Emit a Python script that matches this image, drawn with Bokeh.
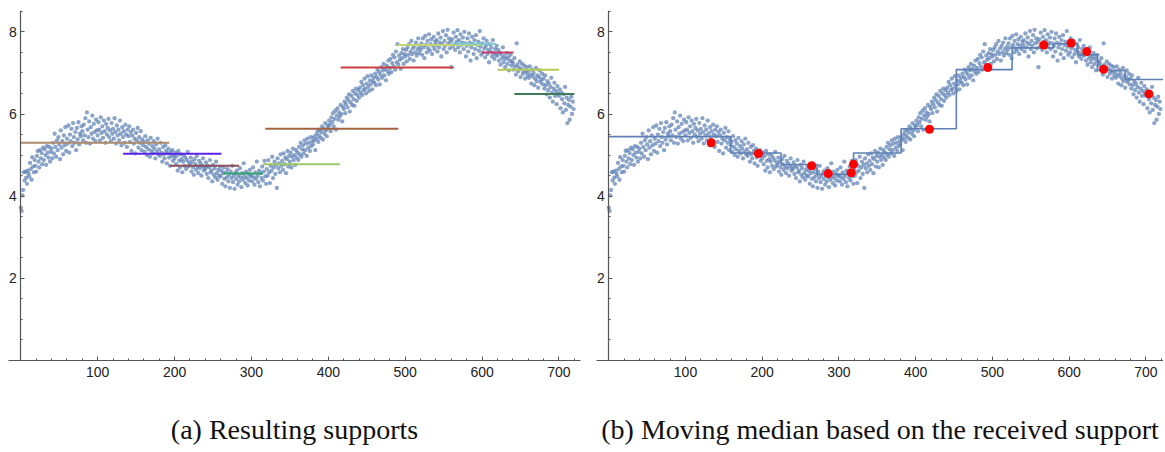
from bokeh.plotting import figure
from bokeh.models import ColumnDataSource, FixedTicker, Range1d
from bokeh.layouts import row
from bokeh.embed import file_html
from bokeh.resources import INLINE

# ---------------- data ----------------
y_values = [
    3.72, 3.64, 4.02, 4.15, 4.58, 4.38, 4.60, 4.45, 4.30, 4.62, 4.55, 4.48, 4.81, 4.66, 4.40, 4.95, 4.72, 4.58, 4.88, 4.74,
    4.60, 4.98, 5.10, 4.84, 4.70, 5.12, 4.92, 5.05, 4.78, 5.18, 4.88, 5.14, 5.00, 4.76, 5.22, 5.06, 4.94, 5.20, 4.84, 5.08,
    5.16, 4.92, 5.30, 5.04, 5.52, 5.20, 4.96, 5.36, 5.12, 5.44, 5.26, 4.90, 5.60, 5.18, 5.34, 5.02, 5.48, 5.24, 5.68, 5.10,
    5.40, 5.28, 5.72, 5.06, 5.50, 5.34, 5.64, 5.22, 5.78, 5.44, 5.30, 5.56, 5.12, 5.66, 5.38, 5.80, 5.26, 5.52, 5.46, 5.70,
    5.58, 5.36, 5.74, 5.48, 5.90, 5.30, 6.04, 5.62, 5.44, 5.82, 5.28, 5.68, 5.52, 5.96, 5.40, 5.76, 5.56, 5.34, 5.86, 5.60,
    5.48, 5.80, 5.62, 5.36, 5.92, 5.54, 5.70, 5.42, 5.84, 5.58, 5.30, 5.76, 5.50, 5.66, 5.88, 5.44, 5.60, 5.34, 5.78, 5.52,
    5.64, 5.40, 5.90, 5.56, 5.28, 5.72, 5.48, 5.62, 5.36, 5.84, 5.52, 5.24, 5.68, 5.44, 5.58, 5.30, 5.74, 5.50, 5.20, 5.62,
    5.46, 5.70, 5.32, 5.56, 5.10, 5.48, 5.62, 5.28, 5.40, 5.04, 5.54, 5.36, 5.66, 5.18, 5.44, 5.30, 5.58, 5.12, 5.38, 5.24,
    5.32, 5.08, 5.46, 5.20, 5.00, 5.36, 5.14, 5.28, 4.96, 5.42, 5.10, 5.22, 5.04, 5.34, 5.16, 4.92, 5.26, 5.08, 5.40, 5.02,
    5.14, 4.98, 5.30, 5.06, 4.84, 5.20, 5.02, 4.92, 5.24, 5.10, 4.80, 5.04, 5.16, 4.94, 4.74, 5.08, 4.98, 5.12, 4.86, 5.00,
    4.92, 5.06, 4.78, 4.98, 4.62, 5.10, 4.86, 4.70, 5.02, 4.90, 4.58, 4.84, 5.00, 4.74, 4.94, 4.66, 4.88, 5.08, 4.72, 4.82,
    4.76, 4.94, 4.60, 4.84, 4.70, 4.52, 4.90, 4.78, 4.64, 4.98, 4.72, 4.56, 4.86, 4.68, 4.80, 4.50, 4.74, 4.92, 4.62, 4.70,
    4.66, 4.82, 4.54, 4.74, 4.44, 4.70, 4.88, 4.58, 4.62, 4.36, 4.76, 4.52, 4.68, 4.46, 4.84, 4.56, 4.40, 4.64, 4.50, 4.72,
    4.48, 4.62, 4.30, 4.56, 4.70, 4.42, 4.24, 4.58, 4.46, 4.66, 4.36, 4.52, 4.20, 4.60, 4.44, 4.74, 4.34, 4.50, 4.18, 4.56,
    4.42, 4.62, 4.28, 4.50, 4.36, 4.68, 4.46, 4.22, 4.56, 4.40, 4.80, 4.48, 4.32, 4.60, 4.44, 4.26, 4.54, 4.38, 4.64, 4.48,
    4.52, 4.36, 4.70, 4.46, 4.28, 4.58, 4.42, 4.84, 4.50, 4.34, 4.62, 4.24, 4.56, 4.44, 4.72, 4.38, 4.60, 4.86, 4.48, 4.30,
    4.66, 4.50, 4.88, 4.58, 4.32, 4.74, 4.62, 4.96, 4.44, 4.70, 4.84, 4.54, 4.76, 4.20, 4.92, 4.68, 4.80, 4.58, 5.02, 4.74,
    4.86, 4.64, 5.04, 4.78, 4.94, 4.56, 4.90, 5.10, 4.72, 4.98, 4.84, 5.06, 4.70, 4.96, 5.16, 4.88, 5.00, 4.76, 5.12, 4.94,
    5.06, 4.88, 5.20, 5.02, 5.30, 4.96, 5.14, 5.24, 5.04, 5.36, 5.12, 5.28, 4.98, 5.40, 5.18, 5.30, 5.10, 5.44, 5.22, 5.34,
    5.26, 5.44, 5.36, 5.12, 5.50, 5.40, 5.58, 5.32, 5.48, 5.62, 5.42, 5.56, 5.70, 5.38, 5.64, 5.52, 5.78, 5.60, 5.46, 5.72,
    5.66, 5.84, 5.74, 5.58, 5.92, 5.80, 6.02, 5.70, 5.88, 6.08, 5.62, 5.96, 6.14, 5.86, 6.04, 5.94, 6.22, 6.00, 5.82, 6.18,
    6.12, 6.30, 6.02, 6.24, 6.40, 6.16, 6.34, 6.48, 6.06, 6.28, 6.44, 6.22, 6.56, 6.36, 6.20, 6.50, 6.62, 6.32, 6.46, 6.58,
    6.40, 6.64, 6.52, 6.78, 6.46, 6.70, 6.58, 6.86, 6.62, 6.50, 6.74, 6.92, 6.66, 6.56, 6.82, 6.72, 6.94, 6.60, 6.80, 6.88,
    6.76, 6.98, 6.70, 6.90, 7.08, 6.84, 7.02, 6.72, 6.96, 7.14, 6.88, 7.06, 7.22, 6.94, 7.10, 6.82, 7.18, 7.04, 7.30, 6.98,
    7.12, 7.34, 7.02, 7.24, 7.44, 7.16, 7.38, 7.08, 7.52, 7.26, 7.70, 7.20, 7.42, 7.32, 7.10, 7.48, 7.36, 7.58, 7.22, 7.46,
    7.40, 7.56, 7.28, 7.62, 7.44, 7.70, 7.34, 7.52, 7.78, 7.46, 7.60, 7.30, 7.66, 7.50, 7.74, 7.42, 7.58, 7.84, 7.48, 7.64,
    7.56, 7.72, 7.44, 7.84, 7.62, 7.36, 7.90, 7.68, 7.50, 7.78, 7.60, 7.94, 7.54, 7.70, 7.82, 7.46, 7.66, 7.88, 7.58, 7.76,
    7.68, 7.80, 7.52, 7.96, 7.62, 7.74, 7.86, 7.40, 7.70, 8.02, 7.58, 7.78, 7.66, 7.92, 7.50, 8.05, 7.72, 7.84, 7.60, 7.76,
    7.14, 7.82, 7.64, 7.98, 7.70, 7.56, 7.88, 7.76, 8.04, 7.62, 7.80, 7.50, 7.94, 7.68, 7.74, 7.86, 7.58, 8.00, 7.72, 7.40,
    7.66, 7.84, 7.52, 7.96, 7.74, 7.30, 7.62, 7.88, 7.70, 7.46, 7.80, 7.58, 7.92, 7.36, 7.68, 7.76, 7.54, 8.02, 7.64, 7.44,
    7.72, 7.50, 7.84, 7.60, 7.38, 7.66, 7.78, 7.46, 7.56, 7.26, 7.70, 7.52, 7.62, 7.40, 7.80, 7.48, 7.34, 7.58, 7.44, 7.66,
    7.42, 7.56, 7.30, 7.50, 7.20, 7.46, 7.36, 7.62, 7.26, 7.40, 7.14, 7.34, 7.48, 7.22, 7.38, 7.06, 7.30, 7.44, 7.18, 7.28,
    7.24, 7.08, 7.36, 7.16, 6.96, 7.72, 7.20, 7.04, 7.12, 7.28, 6.90, 7.10, 7.22, 6.98, 7.06, 7.18, 6.86, 7.02, 7.14, 6.94,
    7.04, 6.88, 7.16, 6.96, 6.74, 7.08, 6.92, 7.00, 6.70, 6.86, 7.12, 6.80, 6.94, 6.64, 6.90, 7.06, 6.78, 6.84, 6.98, 6.72,
    6.86, 6.62, 6.94, 6.70, 6.48, 6.80, 6.58, 6.74, 6.40, 6.66, 6.88, 6.52, 6.30, 6.62, 6.76, 6.44, 6.56, 6.24, 6.68, 6.50,
    6.44, 6.60, 6.14, 6.52, 6.36, 6.04, 6.48, 6.26, 6.66, 6.10, 6.40, 5.78, 6.22, 6.34, 5.86, 6.18, 6.42, 6.00, 6.30, 6.12,
]
x_values = list(range(len(y_values)))

# resulting supports (panel a)
support_start = [0, 133, 194, 263, 315, 318, 416, 490, 562, 600, 620, 642]
support_end = [193, 261, 284, 315, 415, 491, 563, 599, 618, 641, 700, 720]
support_median = [5.30, 5.03, 4.74, 4.55, 4.78, 5.64, 7.13, 7.68, 7.71, 7.50, 7.08, 6.49]
support_colors = ["#ad8a6c", "#5b22e6", "#8c4e5c", "#2fa46e", "#9cc766", "#a2643e",
                  "#c9403f", "#c2d46e", "#7ccbd2", "#cc3e66", "#b6ca4e", "#3f7b5b"]

# moving median (panel b)
median_x = [0, 159, 224.5, 271.5, 319, 381, 453, 525.7, 580, 611, 637, 673, 723]
median_y = [5.45, 5.05, 4.77, 4.53, 5.05, 5.64, 7.08, 7.61, 7.71, 7.44, 7.06, 6.84, 6.84]
marker_x = [133.6, 195, 264.4, 286, 316, 319, 418, 494, 567, 602.5, 623, 645, 704]
marker_y = [5.30, 5.04, 4.74, 4.55, 4.57, 4.78, 5.63, 7.13, 7.68, 7.73, 7.52, 7.09, 6.49]

x_major = [100, 200, 300, 400, 500, 600, 700]
x_minor = [20, 40, 60, 80, 120, 140, 160, 180, 220, 240, 260, 280, 320, 340, 360, 380,
           420, 440, 460, 480, 520, 540, 560, 580, 620, 640, 660, 680, 720]
y_major = [2, 4, 6, 8]
y_minor = [0.5, 1, 1.5, 2.5, 3, 3.5, 4.5, 5, 5.5, 6.5, 7, 7.5, 8.5]

captions = ["(a) Resulting supports", "(b) Moving median based on the received support"]

POINT_COLOR = "#5e81b5"
AXIS_COLOR = "#555555"
FIG_H = 450


def make_fig(width, x_end, border_left, border_right, caption):
    p = figure(width=width, height=FIG_H,
               x_range=Range1d(-16, x_end), y_range=Range1d(0, 8.52),
               output_backend="svg", toolbar_location=None,
               min_border_left=border_left, min_border_right=border_right,
               min_border_top=10, min_border_bottom=90)
    p.background_fill_color = "white"
    p.border_fill_color = "white"
    p.outline_line_color = None
    p.xgrid.visible = False
    p.ygrid.visible = False

    xa = p.xaxis[0]
    xa.ticker = FixedTicker(ticks=x_major, minor_ticks=x_minor)
    ya = p.yaxis[0]
    ya.fixed_location = 0
    ya.ticker = FixedTicker(ticks=y_major, minor_ticks=y_minor)
    for ax in (xa, ya):
        ax.axis_line_color = AXIS_COLOR
        ax.axis_line_width = 1.2
        ax.major_tick_line_color = AXIS_COLOR
        ax.minor_tick_line_color = AXIS_COLOR
        ax.major_tick_in = 4
        ax.major_tick_out = 0
        ax.minor_tick_in = 2
        ax.minor_tick_out = 0
        ax.major_label_text_font = "Liberation Sans"
        ax.major_label_text_font_size = "14px"
        ax.major_label_text_color = "#222222"
    xa.major_label_standoff = 6
    ya.major_label_standoff = 4

    xa.axis_label = caption
    xa.axis_label_text_font = "Liberation Serif"
    xa.axis_label_text_font_size = "28px"
    xa.axis_label_text_font_style = "normal"
    xa.axis_label_text_color = "#111111"
    xa.axis_label_standoff = 34

    src = ColumnDataSource(dict(x=x_values, y=y_values))
    p.scatter("x", "y", source=src, size=4.3, fill_color=POINT_COLOR,
              fill_alpha=0.72, line_color=None)
    return p


p1 = make_fig(596, 728, 8, 16, captions[0])
seg_src = ColumnDataSource(dict(x0=support_start, x1=support_end,
                                y0=support_median, y1=support_median,
                                c=support_colors))
p1.segment("x0", "y0", "x1", "y1", source=seg_src, line_color="c", line_width=2)

p2 = make_fig(567, 723, 0, 0, captions[1])
p2.step(median_x, median_y, mode="after", line_color=POINT_COLOR, line_width=1.6)
p2.scatter(marker_x, marker_y, size=9, fill_color="#ff0000", line_color=None)

layout = row(p1, p2)
open("out.html", "w").write(file_html(layout, INLINE))
